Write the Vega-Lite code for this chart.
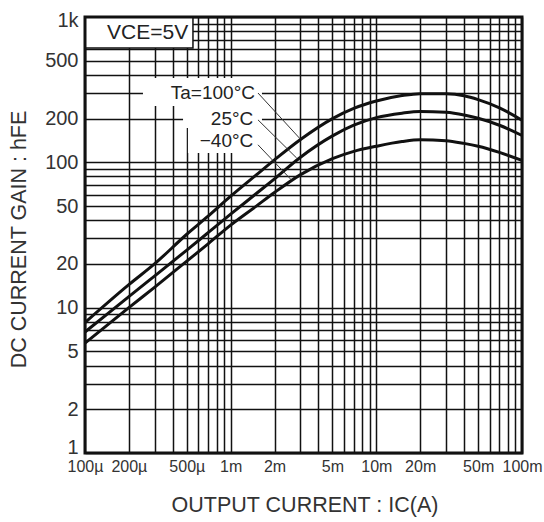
{
  "$schema": "https://vega.github.io/schema/vega-lite/v6.json",
  "width": 437,
  "height": 436,
  "autosize": {"type": "none"},
  "padding": {"left": 85, "top": 17, "right": 22, "bottom": 69},
  "background": "white",
  "config": {"view": {"stroke": null}},
  "datasets": {
    "curves": [
      {"x": 0.0001, "y": 7.9, "Ta": "100"}, {"x": 0.0002, "y": 14.4, "Ta": "100"}, {"x": 0.0003, "y": 20.0, "Ta": "100"},
      {"x": 0.0005, "y": 32.0, "Ta": "100"}, {"x": 0.0007, "y": 42.6, "Ta": "100"}, {"x": 0.001, "y": 58.5, "Ta": "100"},
      {"x": 0.0015, "y": 82, "Ta": "100"}, {"x": 0.002, "y": 104, "Ta": "100"}, {"x": 0.003, "y": 143, "Ta": "100"},
      {"x": 0.005, "y": 200, "Ta": "100"}, {"x": 0.007, "y": 235, "Ta": "100"}, {"x": 0.01, "y": 264, "Ta": "100"},
      {"x": 0.015, "y": 288, "Ta": "100"}, {"x": 0.02, "y": 297, "Ta": "100"}, {"x": 0.03, "y": 296, "Ta": "100"},
      {"x": 0.04, "y": 287, "Ta": "100"}, {"x": 0.05, "y": 270, "Ta": "100"}, {"x": 0.07, "y": 237, "Ta": "100"},
      {"x": 0.1, "y": 195, "Ta": "100"},
      {"x": 0.0001, "y": 6.8, "Ta": "25"}, {"x": 0.0002, "y": 11.9, "Ta": "25"}, {"x": 0.0003, "y": 16.5, "Ta": "25"},
      {"x": 0.0005, "y": 24.9, "Ta": "25"}, {"x": 0.0007, "y": 32.8, "Ta": "25"}, {"x": 0.001, "y": 44, "Ta": "25"},
      {"x": 0.0015, "y": 61, "Ta": "25"}, {"x": 0.002, "y": 77, "Ta": "25"}, {"x": 0.003, "y": 108, "Ta": "25"},
      {"x": 0.005, "y": 152, "Ta": "25"}, {"x": 0.007, "y": 180, "Ta": "25"}, {"x": 0.01, "y": 203, "Ta": "25"},
      {"x": 0.015, "y": 218, "Ta": "25"}, {"x": 0.02, "y": 224, "Ta": "25"}, {"x": 0.03, "y": 221, "Ta": "25"},
      {"x": 0.04, "y": 212, "Ta": "25"}, {"x": 0.05, "y": 201, "Ta": "25"}, {"x": 0.07, "y": 180, "Ta": "25"},
      {"x": 0.1, "y": 153, "Ta": "25"},
      {"x": 0.0001, "y": 5.7, "Ta": "-40"}, {"x": 0.0002, "y": 10.0, "Ta": "-40"}, {"x": 0.0003, "y": 13.8, "Ta": "-40"},
      {"x": 0.0005, "y": 20.9, "Ta": "-40"}, {"x": 0.0007, "y": 27.5, "Ta": "-40"}, {"x": 0.001, "y": 37, "Ta": "-40"},
      {"x": 0.0015, "y": 50, "Ta": "-40"}, {"x": 0.002, "y": 62, "Ta": "-40"}, {"x": 0.003, "y": 82, "Ta": "-40"},
      {"x": 0.005, "y": 106, "Ta": "-40"}, {"x": 0.007, "y": 119, "Ta": "-40"}, {"x": 0.01, "y": 129, "Ta": "-40"},
      {"x": 0.015, "y": 139, "Ta": "-40"}, {"x": 0.02, "y": 143, "Ta": "-40"}, {"x": 0.03, "y": 141, "Ta": "-40"},
      {"x": 0.04, "y": 135, "Ta": "-40"}, {"x": 0.05, "y": 129, "Ta": "-40"}, {"x": 0.07, "y": 117, "Ta": "-40"},
      {"x": 0.1, "y": 103, "Ta": "-40"}
    ],
    "masks": [
      {"x": 0.00025, "x2": 0.00164, "y": 244, "y2": 381},
      {"x": 0.000471, "x2": 0.00164, "y": 172.5, "y2": 244},
      {"x": 0.000509, "x2": 0.00164, "y": 116, "y2": 172.5}
    ],
    "box": [{"x": 0.0001, "x2": 0.000551, "y": 613, "y2": 1000}],
    "boxlabel": [{"x": 0.000269, "y": 777, "label": "VCE=5V"}],
    "leaders": [
      {"x": 0.00154, "y": 300, "x2": 0.003, "y2": 145},
      {"x": 0.00154, "y": 196, "x2": 0.00284, "y2": 107},
      {"x": 0.00154, "y": 132, "x2": 0.0026, "y2": 76}
    ],
    "labels": [
      {"x": 0.001468, "y": 300, "label": "Ta=100°C"},
      {"x": 0.00143, "y": 198, "label": "25°C"},
      {"x": 0.00143, "y": 140, "label": "−40°C"}
    ],
    "frame": [{"x": 0.0001, "x2": 0.1, "y": 1, "y2": 1000}]
  },
  "encoding": {
    "x": {
      "field": "x", "type": "quantitative",
      "scale": {"type": "log", "domain": [0.0001, 0.1], "nice": false},
      "axis": {
        "values": [0.0001,0.0002,0.0003,0.0004,0.0005,0.0006,0.0007,0.0008,0.0009,0.001,0.002,0.003,0.004,0.005,0.006,0.007,0.008,0.009,0.01,0.02,0.03,0.04,0.05,0.06,0.07,0.08,0.09,0.1],
        "labelExpr": "indexof([1,2,5], round(datum.value/pow(10, floor(log(datum.value)/LN10+1e-6)))) < 0 ? '' : (datum.value < 0.00099 ? format(datum.value*1e6,'.0f') + 'µ' : format(datum.value*1e3,'.0f') + 'm')",
        "grid": true, "gridColor": "#111", "gridWidth": 1.5, "gridOpacity": 1,
        "ticks": false, "domain": false, "zindex": 0,
        "labelFont": "Liberation Sans, Arial, sans-serif",
        "labelFontSize": 16, "labelColor": "#333", "labelPadding": 5,
        "labelOverlap": false, "labelBound": false, "labelFlush": false, "labelAngle": 0,
        "title": "OUTPUT  CURRENT  :  IC(A)",
        "titleFont": "Liberation Sans, Arial, sans-serif", "titleFontSize": 21.5, "titleFontWeight": "normal",
        "titleColor": "#333", "titleX": 219.5, "titleY": 52, "titleAlign": "center", "titleBaseline": "middle"
      }
    },
    "y": {
      "field": "y", "type": "quantitative",
      "scale": {"type": "log", "domain": [1, 1000], "nice": false},
      "axis": {
        "values": [1,2,3,4,5,6,7,8,9,10,20,30,40,50,60,70,80,90,100,200,300,400,500,600,700,800,900,1000],
        "labelExpr": "indexof([1,2,5], round(datum.value/pow(10, floor(log(datum.value)/LN10+1e-6)))) < 0 ? '' : (datum.value >= 999 ? '1k' : format(datum.value,'.0f'))",
        "grid": true, "gridColor": "#111", "gridWidth": 1.5, "gridOpacity": 1,
        "ticks": false, "domain": false, "zindex": 0,
        "labelFont": "Liberation Sans, Arial, sans-serif",
        "labelFontSize": 20, "labelColor": "#333", "labelPadding": 7,
        "labelOverlap": false, "labelBound": false, "labelFlush": false,
        "labelBaseline": {"condition": {"test": "datum.value <= 1", "value": "alphabetic"}, "value": "middle"},
        "labelOffset": {"condition": {"test": "datum.value >= 999", "value": 3}, "value": 0},
        "title": "DC  CURRENT  GAIN  :  hFE",
        "titleFont": "Liberation Sans, Arial, sans-serif", "titleFontSize": 21.5, "titleFontWeight": "normal",
        "titleColor": "#333", "titleX": -66, "titleY": 222, "titleAngle": -90, "titleAlign": "center", "titleBaseline": "middle"
      }
    }
  },
  "layer": [
    {
      "data": {"name": "masks"},
      "mark": {"type": "rect", "fill": "white", "strokeWidth": 0},
      "encoding": {"x2": {"field": "x2"}, "y2": {"field": "y2"}}
    },
    {
      "data": {"name": "box"},
      "mark": {"type": "rect", "fill": "white", "stroke": "#111", "strokeWidth": 1.5},
      "encoding": {"x2": {"field": "x2"}, "y2": {"field": "y2"}}
    },
    {
      "data": {"name": "boxlabel"},
      "mark": {"type": "text", "font": "Liberation Sans, Arial, sans-serif", "fontSize": 21, "color": "#222", "align": "center", "baseline": "middle"},
      "encoding": {"text": {"field": "label"}}
    },
    {
      "data": {"name": "curves"},
      "mark": {"type": "line", "strokeWidth": 3, "color": "#111", "interpolate": "monotone"},
      "encoding": {"detail": {"field": "Ta", "type": "nominal"}}
    },
    {
      "data": {"name": "leaders"},
      "mark": {"type": "rule", "strokeWidth": 1, "color": "#333"},
      "encoding": {"x2": {"field": "x2"}, "y2": {"field": "y2"}}
    },
    {
      "data": {"name": "labels"},
      "mark": {"type": "text", "font": "Liberation Sans, Arial, sans-serif", "fontSize": 19, "color": "#222", "align": "right", "baseline": "middle"},
      "encoding": {"text": {"field": "label"}}
    },
    {
      "data": {"name": "frame"},
      "mark": {"type": "rect", "filled": false, "stroke": "#111", "strokeWidth": 3},
      "encoding": {"x2": {"field": "x2"}, "y2": {"field": "y2"}}
    }
  ]
}
